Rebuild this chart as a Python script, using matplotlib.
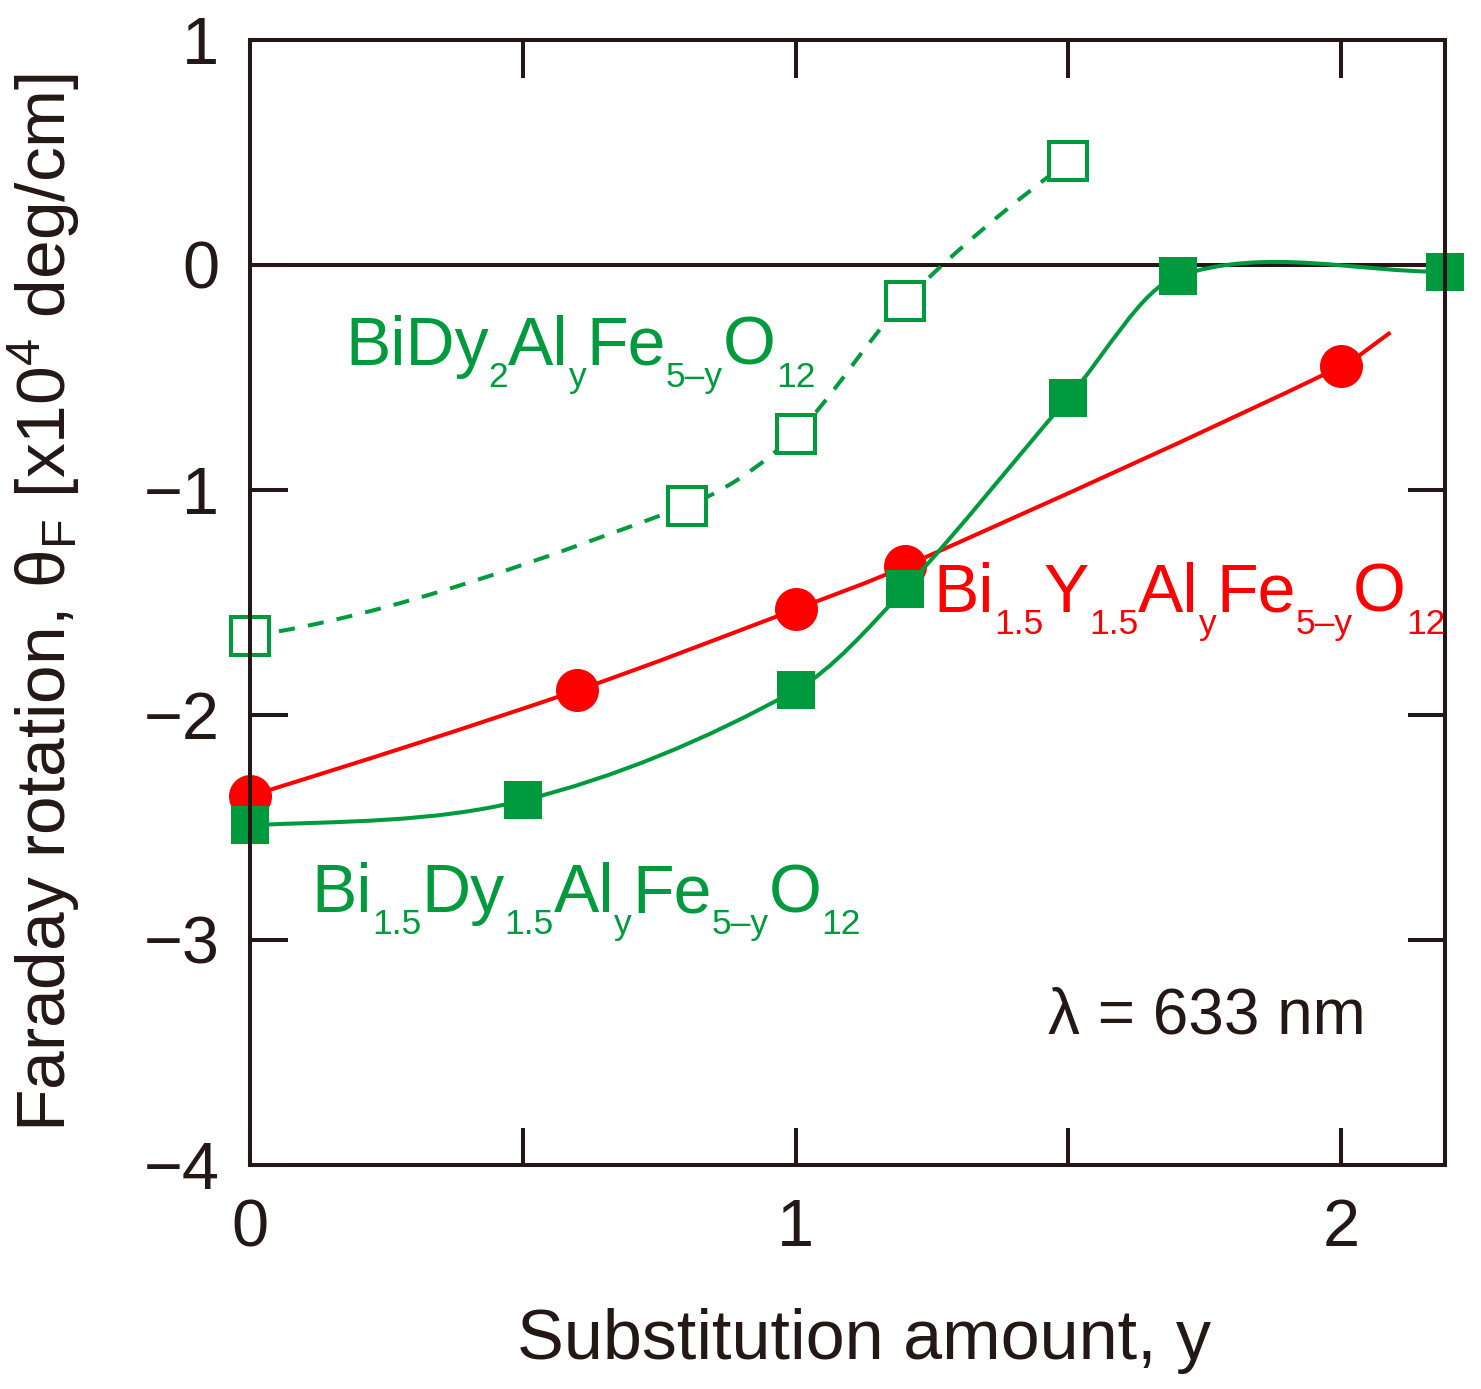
import numpy as np
import matplotlib
matplotlib.use("Agg")
import matplotlib.pyplot as plt
from matplotlib.path import Path
from matplotlib.patches import PathPatch
import matplotlib.transforms as mtransforms

plt.rcParams['font.family'] = ['Liberation Sans', 'DejaVu Sans']
plt.rcParams['mathtext.fontset'] = 'custom'
plt.rcParams['mathtext.rm'] = 'Liberation Sans'
plt.rcParams['mathtext.it'] = 'Liberation Sans'

# Bi1.5Y1.5AlyFe5-yO12 (red circles)
red_x = [0.0, 0.6, 1.0, 1.2, 2.0]
red_y = [-2.36, -1.89, -1.53, -1.34, -0.45]
red_fit_end = (2.09, -0.30)

# Bi1.5Dy1.5AlyFe5-yO12 (green filled squares)
gf_x = [0.0, 0.5, 1.0, 1.2, 1.5, 1.7, 2.19]
gf_y = [-2.49, -2.38, -1.89, -1.44, -0.59, -0.05, -0.03]

# BiDy2AlyFe5-yO12 (green open squares, dashed)
go_x = [0.0, 0.8, 1.0, 1.2, 1.5]
go_y = [-1.65, -1.07, -0.75, -0.16, 0.46]

red = '#ff0000'
green = '#009a3e'
dark = '#231815'

label_red = [("Bi", 0), ("1.5", 1), ("Y", 0), ("1.5", 1), ("Al", 0), ("y", 1),
             ("Fe", 0), ("5\u2013y", 1), ("O", 0), ("12", 1)]
label_gf = [("Bi", 0), ("1.5", 1), ("Dy", 0), ("1.5", 1), ("Al", 0), ("y", 1),
            ("Fe", 0), ("5\u2013y", 1), ("O", 0), ("12", 1)]
label_go = [("BiDy", 0), ("2", 1), ("Al", 0), ("y", 1),
            ("Fe", 0), ("5\u2013y", 1), ("O", 0), ("12", 1)]


def slopes(x, y):
    x = np.asarray(x, float); y = np.asarray(y, float)
    h = np.diff(x); d = np.diff(y) / h
    m = np.zeros_like(y)
    for i in range(1, len(x) - 1):
        m[i] = (y[i + 1] - y[i - 1]) / (x[i + 1] - x[i - 1])
    # ends: mean of end secant and three-point estimate (clamped)
    m0 = d[0] - (d[1] - d[0]) * h[0] / (h[0] + h[1])
    mn = d[-1] + (d[-1] - d[-2]) * h[-1] / (h[-1] + h[-2])
    m0 = m0 if m0 * d[0] > 0 else 0.0
    mn = mn if mn * d[-1] > 0 else 0.0
    m[0] = 0.5 * (m0 + d[0])
    m[-1] = 0.5 * (mn + d[-1])
    return m


def smooth_path(x, y):
    m = slopes(x, y)
    verts = [(x[0], y[0])]
    codes = [Path.MOVETO]
    for i in range(len(x) - 1):
        h = x[i + 1] - x[i]
        verts += [(x[i] + h / 3, y[i] + m[i] * h / 3),
                  (x[i + 1] - h / 3, y[i + 1] - m[i + 1] * h / 3),
                  (x[i + 1], y[i + 1])]
        codes += [Path.CURVE4] * 3
    return Path(verts, codes)


fig = plt.figure(figsize=(14.81, 13.89), dpi=100)
ax = fig.add_axes([0.1688, 0.1613, 0.8069, 0.8099])
ax.set_xlim(0, 2.19)
ax.set_ylim(-4, 1)

ax.axhline(0, color=dark, lw=2.9, zorder=1)

# red
ax.add_patch(PathPatch(smooth_path(red_x + [red_fit_end[0]], red_y + [red_fit_end[1]]),
                       fill=False, ec=red, lw=2.9, zorder=2))
ax.plot(red_x, red_y, 'o', color=red, ms=31, mew=0, zorder=3, clip_on=False)

# green dashed open squares
ax.add_patch(PathPatch(smooth_path(go_x, go_y), fill=False, ec=green, lw=2.9,
                       linestyle=(0, (4, 3.3)), zorder=4))
ax.plot(go_x, go_y, 's', mfc='white', mec=green, ms=27, mew=2.9, zorder=5, clip_on=False)

# green solid filled squares
ax.add_patch(PathPatch(smooth_path(gf_x, gf_y), fill=False, ec=green, lw=2.9, zorder=4))
ax.plot(gf_x, gf_y, 's', color=green, ms=27, mew=0, zorder=5, clip_on=False)

for s in ax.spines.values():
    s.set_linewidth(2.9)
    s.set_color(dark)
    s.set_zorder(6)

ax.set_xticks([0, 0.5, 1, 1.5, 2])
ax.set_xticklabels(['0', '', '1', '', '2'])
ax.set_yticks([-4, -3, -2, -1, 0, 1])
ax.tick_params(direction='in', length=27, width=2.9, color=dark, labelcolor=dark,
               labelsize=48, top=True, right=True)
ax.tick_params(axis='x', pad=24)
ax.tick_params(axis='y', pad=22)

ax.set_xlabel("Substitution amount, y", fontsize=50.5, color=dark, labelpad=34)
ax.xaxis.label.set_x(0.514)
ax.set_ylabel(r"Faraday rotation, θ$_\mathregular{F}$ [x10$^\mathregular{4}$ deg/cm]",
              fontsize=50, color=dark, labelpad=44)

ax.text(2.045, -3.34, "\u03bb = 633 nm", fontsize=46, color=dark, ha='right', va='center')

renderer = fig.canvas.get_renderer()


def formula(x, y, parts, color):
    dx = 0.0
    for s, sub in parts:
        tr = mtransforms.offset_copy(ax.transData, fig=fig, x=dx,
                                     y=-22 if sub else 0, units='dots')
        t = ax.text(x, y, s, color=color, fontsize=25.5 if sub else 49,
                    va='baseline', ha='left', transform=tr, zorder=7)
        dx += t.get_window_extent(renderer).width


formula(0.174, -0.444, label_go, green)
formula(1.253, -1.542, label_red, red)
formula(0.113, -2.876, label_gf, green)

fig.savefig('out.png', dpi=100, facecolor='white')
